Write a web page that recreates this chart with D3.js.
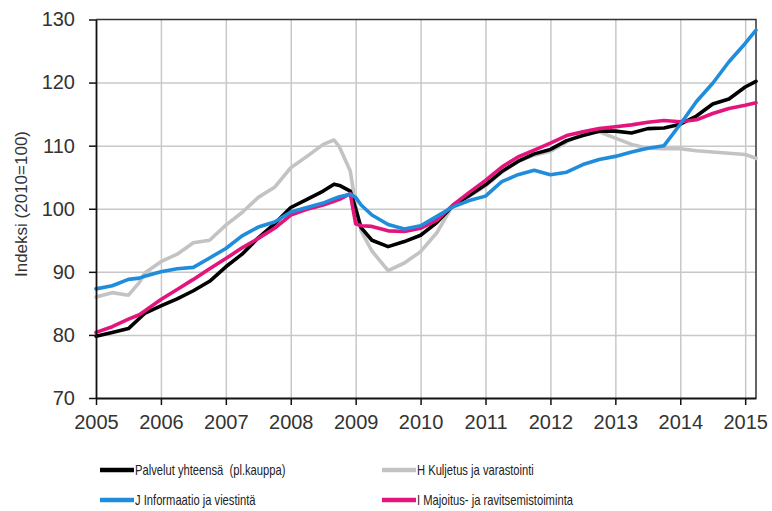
<!DOCTYPE html>
<html>
<head>
<meta charset="utf-8">
<script src="https://cdn.jsdelivr.net/npm/d3@7/dist/d3.min.js"></script>
<style>
  body { margin: 0; background: #fff; }
  text { font-family: "Liberation Sans", Arial, sans-serif; }
  .legendText { white-space: pre; }
</style>
</head>
<body>
<svg id="chart" width="772" height="511"></svg>
<script>
// months (not every month, only where values were read)
var months = ["2005-01","2005-04","2005-07","2005-09","2005-10",
  "2006-01","2006-04","2006-07","2006-10",
  "2007-01","2007-04","2007-07","2007-10",
  "2008-01","2008-04","2008-07","2008-09","2008-10","2008-12",
  "2009-01","2009-02","2009-04","2009-07","2009-10",
  "2010-01","2010-04","2010-07","2010-10",
  "2011-01","2011-04","2011-07","2011-10",
  "2012-01","2012-04","2012-07","2012-10",
  "2013-01","2013-04","2013-07","2013-10",
  "2014-01","2014-04","2014-07","2014-10",
  "2015-01","2015-03"];

var palvelut = [79.8, 80.4, 81.0, 82.6, 83.4,
  84.6, 85.7, 87.0, 88.5,
  90.8, 92.8, 95.4, 97.6,
  100.2, 101.5, 102.8, 103.9, 103.7, 102.8,
  100.0, 97.0, 95.0, 94.0, 94.8,
  95.8, 97.8, 100.5, 102.1,
  103.8, 105.9, 107.5, 108.7,
  109.4, 110.8, 111.6, 112.3,
  112.3, 112.0, 112.7, 112.8,
  113.4, 114.7, 116.6, 117.4,
  119.3, 120.2];

var kuljetus = [86.0, 86.7, 86.3, 88.3, 89.8,
  91.6, 92.8, 94.6, 95.0,
  97.4, 99.4, 101.8, 103.4,
  106.5, 108.3, 110.2, 110.9, 109.8, 106.0,
  100.5, 96.5, 93.3, 90.2, 91.4,
  93.2, 96.2, 100.6, 102.0,
  103.6, 105.8, 107.5, 108.5,
  109.1, 110.6, 111.9, 112.2,
  111.2, 110.2, 109.6, 109.5,
  109.5, 109.2, 109.0, 108.8,
  108.6, 108.0];

var informaatio = [87.3, 87.8, 88.8, 89.0, 89.3,
  90.0, 90.5, 90.7, 92.2,
  93.7, 95.7, 97.1, 97.9,
  99.5, 100.2, 100.9, 101.6, 101.9, 102.3,
  101.8, 100.6, 99.0, 97.5, 96.8,
  97.3, 98.8, 100.3, 101.3,
  102.0, 104.3, 105.4, 106.1,
  105.4, 105.8, 107.0, 107.8,
  108.3, 109.0, 109.6, 110.0,
  113.4, 117.0, 119.9, 123.3,
  126.2, 128.3];

var majoitus = [80.4, 81.3, 82.5, 83.2, 83.8,
  85.6, 87.2, 88.8, 90.5,
  92.1, 93.8, 95.3, 96.9,
  99.0, 99.9, 100.6, 101.2, 101.5, 102.4,
  97.6, 97.3, 97.2, 96.5, 96.4,
  96.9, 98.2, 100.6, 102.6,
  104.5, 106.6, 108.2, 109.3,
  110.4, 111.6, 112.2, 112.7,
  113.0, 113.3, 113.7, 114.0,
  113.8, 114.1, 115.1, 115.9,
  116.4, 116.8];

var yearTicks = [2005, 2006, 2007, 2008, 2009, 2010, 2011, 2012, 2013, 2014, 2015];
var valueTicks = [70, 80, 90, 100, 110, 120, 130];

var seriesNames = ["Palvelut yhteensä  (pl.kauppa)", "H Kuljetus ja varastointi",
  "J Informaatio ja viestintä", "I Majoitus- ja ravitsemistoiminta"];
var seriesColors = ["#000000", "#c3c3c3", "#1f8ddb", "#e3157c"];
var seriesValues = [palvelut, kuljetus, informaatio, majoitus];

function monthToYear(m){
    var parts = m.split("-");
    return +parts[0] + (+parts[1] - 1) / 12;
}

var svg = d3.select("#chart");
var margin = {left: 96, right: 16, top: 19.5, bottom: 113};
var width = 772, height = 511;

var x = d3.scaleLinear().domain([2005, 2015 + 2/12]).range([margin.left, width - margin.right]);
var y = d3.scaleLinear().domain([70, 130]).range([height - margin.bottom, margin.top]);

// grid
svg.append("g")
    .attr("transform", "translate(0," + y(70) + ")")
    .call(d3.axisBottom(x).tickValues(yearTicks.slice(1)).tickSize(-(y(70) - y(130))).tickFormat(""))
    .call(function(g){ g.select(".domain").remove(); })
    .selectAll("line").attr("stroke", "#c8c8c8").attr("stroke-width", 1.5);
svg.append("g")
    .attr("transform", "translate(" + x.range()[0] + ",0)")
    .call(d3.axisLeft(y).tickValues(valueTicks.slice(1, -1)).tickSize(-(x.range()[1] - x.range()[0])).tickFormat(""))
    .call(function(g){ g.select(".domain").remove(); })
    .selectAll("line").attr("stroke", "#c8c8c8").attr("stroke-width", 1.5);

// frame (top + right)
svg.append("path")
    .attr("d", "M" + x.range()[0] + "," + y(130) + "H" + x.range()[1] + "V" + y(70))
    .attr("fill", "none").attr("stroke", "#333").attr("stroke-width", 1.5);

// lines
var line = d3.line()
    .x(function(d){ return x(d.t); })
    .y(function(d){ return y(d.v); });

var drawOrder = [1, 0, 3, 2];
drawOrder.forEach(function(s){
    var data = months.map(function(m, i){ return {t: monthToYear(m), v: seriesValues[s][i]}; });
    svg.append("path")
        .datum(data)
        .attr("fill", "none")
        .attr("stroke", seriesColors[s])
        .attr("stroke-width", 3.6)
        .attr("stroke-linejoin", "round")
        .attr("stroke-linecap", "round")
        .attr("d", line);
});

// axes
var xAxis = svg.append("g")
    .attr("transform", "translate(0," + y(70) + ")")
    .call(d3.axisBottom(x).tickValues(yearTicks).tickFormat(d3.format("d")).tickSizeInner(7).tickSizeOuter(0).tickPadding(10));
var yAxis = svg.append("g")
    .attr("transform", "translate(" + x.range()[0] + ",0)")
    .call(d3.axisLeft(y).tickValues(valueTicks).tickSizeInner(7).tickSizeOuter(0).tickPadding(14));
[xAxis, yAxis].forEach(function(g){
    g.select(".domain").attr("stroke", "#111").attr("stroke-width", 1.8);
    g.selectAll(".tick line").attr("stroke", "#111").attr("stroke-width", 1.5);
    g.selectAll(".tick text").attr("fill", "#333").style("font-size", "20px")
        .style("font-family", "'Liberation Sans', Arial, sans-serif");
});

svg.append("text")
    .attr("transform", "translate(27,204) rotate(-90)")
    .attr("text-anchor", "middle")
    .attr("fill", "#333")
    .style("font-size", "17px")
    .text("Indeksi (2010=100)");

// legend (text is squeezed horizontally like the original)
var legendPos = [[100, 470], [382, 470], [100, 500], [382, 500]];
seriesNames.forEach(function(name, i){
    var g = svg.append("g").attr("transform", "translate(" + legendPos[i][0] + "," + legendPos[i][1] + ")");
    g.append("line").attr("x1", 0).attr("x2", 34).attr("y1", 0).attr("y2", 0)
        .attr("stroke", seriesColors[i]).attr("stroke-width", 4.5);
    g.append("text").attr("class", "legendText")
        .attr("transform", "translate(35,0) scale(0.8,1)")
        .attr("dy", "0.35em")
        .attr("fill", "#222")
        .style("font-size", "14px")
        .text(name);
});
</script>
</body>
</html>
